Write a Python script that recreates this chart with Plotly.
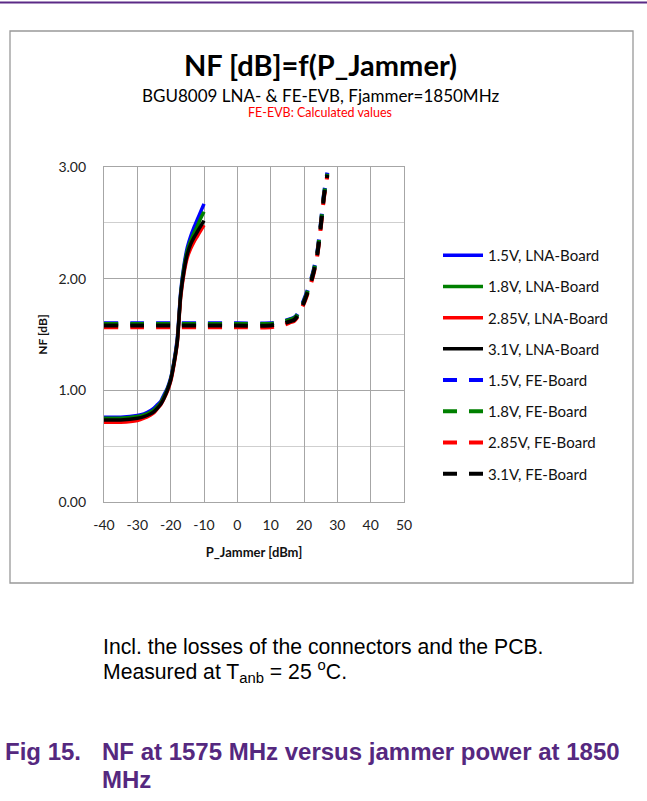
import plotly.graph_objects as go

# ---------------- data ----------------
x_lna = [-40, -35, -30, -28, -26, -25, -24, -23, -22, -21, -20, -19, -18, -17, -16, -15, -14, -13, -12, -11, -10]
nf_lna_15 = [0.76, 0.76, 0.775, 0.79, 0.82, 0.84, 0.87, 0.90, 0.96, 1.02, 1.11, 1.26, 1.47, 1.88, 2.12, 2.28, 2.38, 2.46, 2.53, 2.60, 2.67]
nf_lna_18 = [0.75, 0.75, 0.765, 0.78, 0.805, 0.825, 0.855, 0.89, 0.945, 1.01, 1.10, 1.25, 1.45, 1.86, 2.10, 2.25, 2.34, 2.41, 2.47, 2.54, 2.60]
nf_lna_285 = [0.715, 0.715, 0.73, 0.75, 0.78, 0.80, 0.835, 0.87, 0.925, 0.99, 1.08, 1.23, 1.43, 1.83, 2.05, 2.19, 2.27, 2.33, 2.38, 2.43, 2.48]
nf_lna_31 = [0.735, 0.735, 0.75, 0.765, 0.79, 0.81, 0.84, 0.875, 0.93, 1.00, 1.09, 1.24, 1.44, 1.85, 2.07, 2.22, 2.31, 2.37, 2.42, 2.47, 2.52]

x_fe = [-40, -30, -20, -10, 0, 10, 12, 14, 16, 17, 18, 19, 20, 21, 22, 23, 24, 25, 26, 27]
nf_fe_15 = [1.60, 1.60, 1.60, 1.60, 1.60, 1.60, 1.61, 1.62, 1.64, 1.65, 1.68, 1.74, 1.81, 1.89, 1.98, 2.09, 2.24, 2.48, 2.76, 2.95]
nf_fe_18 = [1.595, 1.595, 1.595, 1.595, 1.595, 1.595, 1.605, 1.615, 1.635, 1.645, 1.675, 1.735, 1.80, 1.88, 1.97, 2.08, 2.23, 2.47, 2.75, 2.94]
nf_fe_285 = [1.565, 1.565, 1.565, 1.565, 1.565, 1.565, 1.575, 1.585, 1.61, 1.62, 1.655, 1.715, 1.78, 1.86, 1.95, 2.06, 2.21, 2.45, 2.73, 2.92]
nf_fe_31 = [1.58, 1.58, 1.58, 1.58, 1.58, 1.58, 1.59, 1.60, 1.62, 1.63, 1.665, 1.725, 1.79, 1.87, 1.96, 2.07, 2.22, 2.46, 2.74, 2.93]

labels_lna = ["1.5V, LNA-Board", "1.8V, LNA-Board", "2.85V, LNA-Board", "3.1V, LNA-Board"]
labels_fe = ["1.5V, FE-Board", "1.8V, FE-Board", "2.85V, FE-Board", "3.1V, FE-Board"]
colors = ["#0000FF", "#008000", "#FF0000", "#000000"]

x_ticks = [-40, -30, -20, -10, 0, 10, 20, 30, 40, 50]
x_tick_labels = ["-40", "-30", "-20", "-10", "0", "10", "20", "30", "40", "50"]
y_ticks = [0, 1, 2, 3]

# ---------------- figure ----------------
W, H = 647, 801
L, R, T, B = 104, 404, 167, 502   # plot area in pixels


def px(xp):
    return (xp - L) / (R - L)


def py(yp):
    return (B - yp) / (B - T)


FONT = "Lato"
fig = go.Figure()

for lab, col, ys in zip(labels_lna, colors, [nf_lna_15, nf_lna_18, nf_lna_285, nf_lna_31]):
    fig.add_trace(go.Scatter(x=x_lna, y=ys, mode="lines", name=lab, legendgroup=lab,
                             line=dict(color=col, width=3.5, shape="spline", smoothing=0.6)))
for lab, col, ys in zip(labels_fe, colors, [nf_fe_15, nf_fe_18, nf_fe_285, nf_fe_31]):
    fig.add_trace(go.Scatter(x=x_fe, y=ys, mode="lines", name=lab, legendgroup=lab,
                             line=dict(color=col, width=4, dash="14px,12px", shape="spline", smoothing=0.6)))

grid_major = "#A6A6A6"
grid_minor = "#CFCFCF"

fig.update_xaxes(range=[-40, 50], tickvals=x_ticks, ticktext=x_tick_labels, ticks="", showgrid=True,
                 gridcolor=grid_major, gridwidth=1.3, zeroline=False, showline=True, linecolor=grid_major,
                 linewidth=1.3, mirror=True, tickfont=dict(family=FONT, size=14, color="#222"),
                 ticklabelstandoff=10,
                 title=dict(text="<b>P_Jammer [dBm]</b>", font=dict(family=FONT, size=13, color="#111"),
                            standoff=15))
fig.update_yaxes(range=[0, 3], tickvals=y_ticks, tickformat=".2f", ticks="", showgrid=True,
                 gridcolor=grid_major, gridwidth=1.3, zeroline=False, showline=True, linecolor=grid_major,
                 linewidth=1.3, mirror=True, tickfont=dict(family=FONT, size=14, color="#222"),
                 ticklabelstandoff=14,
                 minor=dict(dtick=0.5, showgrid=True, gridcolor=grid_minor, gridwidth=1.2),
                 title=dict(text="<b>NF [dB]</b>", font=dict(family=FONT, size=12, color="#111"),
                            standoff=8))

shapes = [
    # outer chart frame
    dict(type="rect", xref="paper", yref="paper", x0=px(10), x1=px(633), y0=py(583), y1=py(31),
         line=dict(color="#999999", width=1.3), fillcolor="rgba(0,0,0,0)", layer="below"),
    # top document rule
    dict(type="line", xref="paper", yref="paper", x0=px(0), x1=px(647), y0=py(2.5), y1=py(2.5),
         line=dict(color="#5B2A86", width=2), layer="above"),
]

purple = "#55287F"
annotations = [
    dict(text="<b>NF [dB]=f(P_Jammer)</b>", x=px(320), y=py(65), font=dict(family=FONT, size=29, color="#000")),
    dict(text="BGU8009 LNA- & FE-EVB, Fjammer=1850MHz", x=px(320), y=py(96),
         font=dict(family=FONT, size=17, color="#000")),
    dict(text="FE-EVB: Calculated values", x=px(320), y=py(113), font=dict(family=FONT, size=12.5, color="#FF0000")),
    dict(text="Incl. the losses of the connectors and the PCB.", x=px(101), y=py(646), xanchor="left",
         font=dict(family="Liberation Sans", size=21.2, color="#000")),
    dict(text="Measured at T<sub>anb</sub> = 25 <sup>o</sup>C.", x=px(101), y=py(671), xanchor="left",
         font=dict(family="Liberation Sans", size=21.2, color="#000")),
    dict(text="<b>Fig 15.</b>", x=px(83), y=py(751), xanchor="right",
         font=dict(family="Liberation Sans", size=24, color=purple)),
    dict(text="<b>NF at 1575 MHz versus jammer power at 1850</b>", x=px(100), y=py(751), xanchor="left",
         font=dict(family="Liberation Sans", size=24, color=purple)),
    dict(text="<b>MHz</b>", x=px(100), y=py(779), xanchor="left",
         font=dict(family="Liberation Sans", size=24, color=purple)),
]
for a in annotations:
    a.update(xref="paper", yref="paper", showarrow=False, yanchor="middle", xanchor=a.get("xanchor", "center"))

fig.update_layout(
    width=W, height=H,
    margin=dict(l=L, r=W - R, t=T, b=H - B, pad=0),
    paper_bgcolor="white", plot_bgcolor="white",
    shapes=shapes, annotations=annotations,
    legend=dict(x=px(438), y=py(239), xanchor="left", yanchor="top", tracegroupgap=8.7,
                font=dict(family=FONT, size=15, color="#111"), bgcolor="rgba(0,0,0,0)",
                itemwidth=40),
    showlegend=True,
)

fig.write_html("out.html", config={"displayModeBar": False},
               post_script="document.body.style.margin='0';")
